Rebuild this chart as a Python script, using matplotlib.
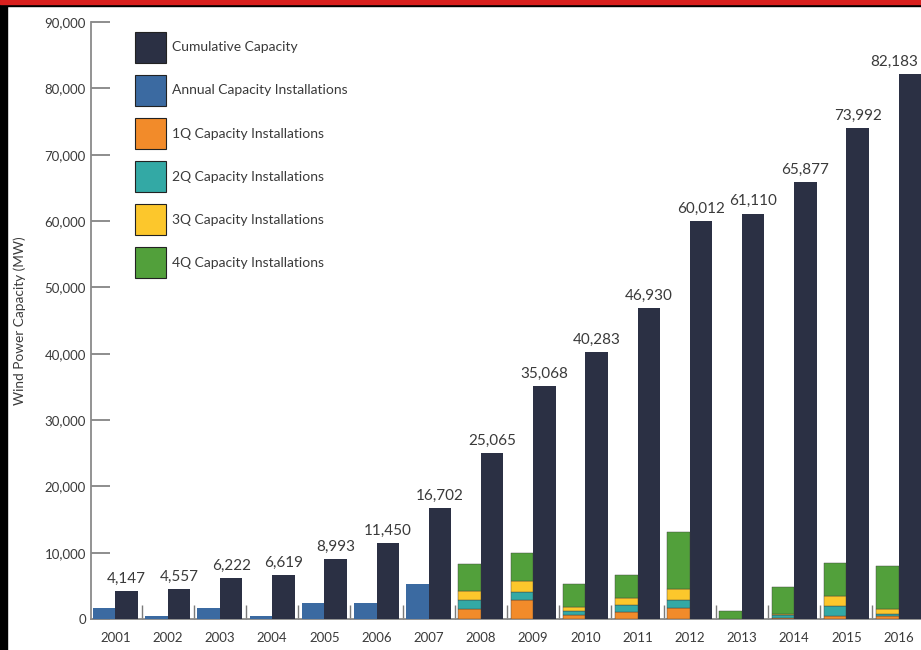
import numpy as np
import matplotlib
matplotlib.use("Agg")
import matplotlib.pyplot as plt
from matplotlib.patches import Rectangle
from matplotlib.ticker import FuncFormatter, FixedLocator

plt.rcParams['font.family'] = ['Lato', 'DejaVu Sans']

# data (MW)
years = ['2001', '2002', '2003', '2004', '2005', '2006', '2007', '2008',
         '2009', '2010', '2011', '2012', '2013', '2014', '2015', '2016']
cumulative = [4147, 4557, 6222, 6619, 8993, 11450, 16702, 25065,
              35068, 40283, 46930, 60012, 61110, 65877, 73992, 82183]
# annual installations, only shown as one bar for 2001-2007
annual = [1697, 410, 1665, 397, 2374, 2457, 5252]
# quarterly installations from 2008 on
q1 = [1450, 2840, 550, 1000, 1650, 0, 200, 400, 450]
q2 = [1400, 1220, 650, 1150, 1250, 0, 350, 1500, 300]
q3 = [1300, 1600, 600, 1000, 1650, 0, 250, 1500, 750]
q4 = [4213, 4345, 3415, 3500, 8530, 1200, 3967, 5100, 6500]

c_cum = '#2b3044'
c_ann = '#3b6aa1'
c_q = ['#f28b2a', '#33a9a5', '#fcc72c', '#52a03b']
txt = '#3a3a3a'

fig = plt.figure(figsize=(9.21, 6.5), dpi=100)
ax = fig.add_axes([90.7 / 921, 1 - 619 / 650, 1 - 90.7 / 921, 597 / 650])

x = np.arange(len(years))
w = 0.43
xa = x - w / 2
xc = x + w / 2

ax.bar(xc, cumulative, w, color=c_cum, label='Cumulative Capacity', zorder=3)
ax.bar(xa[:7], annual, w, color=c_ann, label='Annual Capacity Installations', zorder=3)

xq = xa[7:]
bottom = np.zeros(len(q1))
names = ['1Q Capacity Installations', '2Q Capacity Installations',
         '3Q Capacity Installations', '4Q Capacity Installations']
for vals, col, nm in zip([q1, q2, q3, q4], c_q, names):
    vals = np.array(vals)
    ax.bar(xq, vals, w, bottom=bottom, color=col, edgecolor='#3d3d3d',
           linewidth=0.3, label=nm, zorder=3)
    bottom += vals

for i, (xi, v) in enumerate(zip(xc, cumulative)):
    if i == len(cumulative) - 1:
        # last label would run off the right edge
        ax.text(xi + w / 2 - 0.05, v + 800, f'{v:,}', ha='right', va='bottom',
                fontsize=11, color=txt)
    else:
        ax.text(xi, v + 800, f'{v:,}', ha='center', va='bottom', fontsize=11, color=txt)

ax.set_xlim(-0.475, 15.43)
ax.set_ylim(0, 90000)
ax.set_yticks(np.arange(0, 90001, 10000))
ax.yaxis.set_major_formatter(FuncFormatter(lambda v, p: f'{int(v):,}'))
ax.set_xticks(x)
ax.set_xticklabels(years)
ax.xaxis.set_minor_locator(FixedLocator(np.arange(0.5, 15, 1)))

ax.tick_params(axis='y', direction='in', length=14, width=1.2, color='#7a7a7a',
               labelsize=9.5, labelcolor=txt, pad=3.5)
ax.tick_params(axis='x', which='major', length=0, labelsize=9.5, labelcolor=txt, pad=9)
ax.tick_params(axis='x', which='minor', direction='in', length=10, width=1,
               color='#7a7a7a')

for s in ['top', 'right']:
    ax.spines[s].set_visible(False)
for s in ['left', 'bottom']:
    ax.spines[s].set_color('#8a8a8a')
    ax.spines[s].set_linewidth(1.3)

ax.set_ylabel('Wind Power Capacity (MW)', fontsize=9.8, color=txt, labelpad=13)

handles, labels = ax.get_legend_handles_labels()
leg = ax.legend(handles, labels, loc='upper left', bbox_to_anchor=(135 / 921, 1 - 31.7 / 650),
                bbox_transform=fig.transFigure, frameon=False, fontsize=10,
                handlelength=2.25, handleheight=3.05, labelspacing=0.88,
                handletextpad=0.4, borderpad=0, borderaxespad=0)
for h in leg.legend_handles:
    h.set_edgecolor('#222222')
    h.set_linewidth(0.8)
for t in leg.get_texts():
    t.set_color(txt)

# frame of the original picture
fig.patches.append(Rectangle((0, 1 - 6 / 650), 1, 6 / 650, transform=fig.transFigure,
                             color='black', zorder=10))
fig.patches.append(Rectangle((0, 1 - 3.5 / 650), 1, 3.5 / 650, transform=fig.transFigure,
                             color='#d9201e', zorder=11))
fig.patches.append(Rectangle((0, 0), 7 / 921, 1, transform=fig.transFigure,
                             color='black', zorder=10))

fig.savefig('out.png', dpi=100)
